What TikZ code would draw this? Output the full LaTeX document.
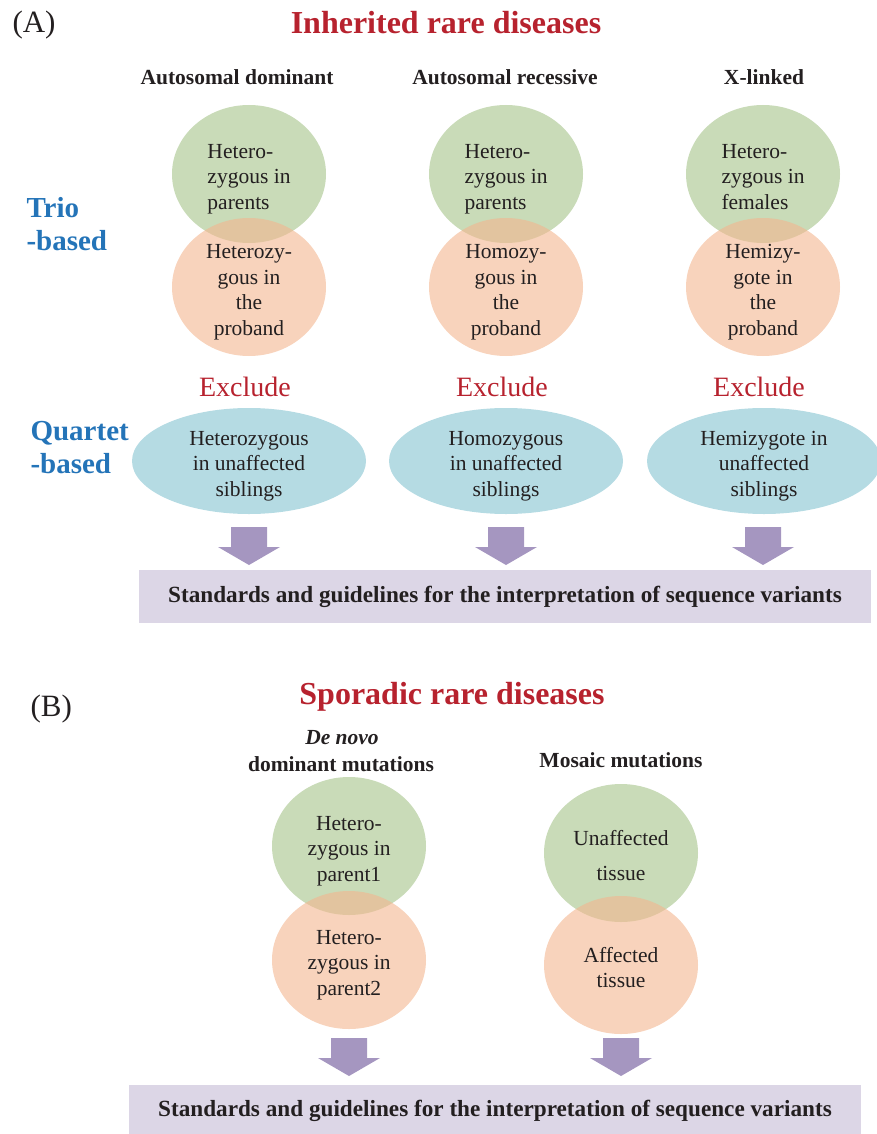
\documentclass[tikz,border=0pt]{standalone}
\usepackage{fontspec}
\setmainfont{Liberation Serif}
\usetikzlibrary{shapes.geometric}

\definecolor{bubgreen}{RGB}{201,219,184}
\definecolor{bubpeach}{RGB}{243,182,143}
\definecolor{bubblue}{RGB}{181,219,227}
\definecolor{arrowlav}{RGB}{165,150,192}
\definecolor{boxlav}{RGB}{220,214,230}
\definecolor{headred}{RGB}{183,34,46}
\definecolor{sideblue}{RGB}{36,116,184}
\definecolor{inkgray}{RGB}{35,31,32}

% block arrow pointing down: x of centre, y of top
\newcommand{\downblock}[2]{
	\fill[arrowlav] (#1-18,#2) -- (#1+18,#2) -- (#1+18,#2+20) -- (#1+31,#2+20)
		-- (#1,#2+38) -- (#1-31,#2+20) -- (#1-18,#2+20) -- cycle;}
% lines of a bubble, set a little low, box of no height
\newcommand{\bublines}[2]{\raisebox{-10pt}[0pt][0pt]{\begin{tabular}{@{}#1@{}}#2\end{tabular}}}

\begin{document}
\begin{tikzpicture}[x=1pt,y=-1pt,
	every node/.style={text=inkgray},
	bigtitle/.style={font=\fontsize{32}{38}\selectfont\bfseries, text=headred},
	panel/.style={font=\fontsize{31}{36}\selectfont, anchor=west},
	colhead/.style={font=\fontsize{21.5}{26}\selectfont\bfseries},
	sidelabel/.style={font=\fontsize{29}{33}\selectfont\bfseries, text=sideblue, align=left, anchor=west},
	exclude/.style={font=\fontsize{28}{32}\selectfont, text=headred},
	bubtext/.style={font=\fontsize{21.5}{25.5}\selectfont, inner sep=0pt},
	parentbub/.style={bubtext, ellipse, fill=bubgreen, minimum width=154pt, minimum height=138pt},
	childbub/.style={bubtext, ellipse, fill=bubpeach, fill opacity=0.6, text opacity=1, minimum width=154pt, minimum height=138pt},
	siblingbub/.style={bubtext, ellipse, fill=bubblue, minimum width=234pt, minimum height=106pt},
	guidebox/.style={fill=boxlav, minimum width=732pt, minimum height=53pt, inner sep=0pt,
		font=\fontsize{23.2}{27}\selectfont\bfseries}]

\useasboundingbox (0,0) rectangle (877,1134);

% (A) inherited
\node[panel] (pA) at (9,25) {(A)};
\node[bigtitle] (inherited) at (446,23) {Inherited rare diseases};

\node[colhead] (ad) at (237,77) {Autosomal dominant};
\node[colhead] (ar) at (505,77) {Autosomal recessive};
\node[colhead] (xl) at (764,77) {X-linked};

\node[sidelabel] (trio) at (23,224) {Trio\\-based};
\node[sidelabel] (quartet) at (27,448) {Quartet\\-based};

\node[parentbub] (adpar) at (249,174) {\bublines{l}{Hetero-\\zygous in\\parents}};
\node[parentbub] (arpar) at (506,174) {\bublines{l}{Hetero-\\zygous in\\parents}};
\node[parentbub] (xlpar) at (763,174) {\bublines{l}{Hetero-\\zygous in\\females}};

\node[childbub] (adpro) at (249,287) {\bublines{c}{Heterozy-\\gous in\\the\\proband}};
\node[childbub] (arpro) at (506,287) {\bublines{c}{Homozy-\\gous in\\the\\proband}};
\node[childbub] (xlpro) at (763,287) {\bublines{c}{Hemizy-\\gote in\\the\\proband}};

\node[exclude] (exad) at (245,387) {Exclude};
\node[exclude] (exar) at (502,387) {Exclude};
\node[exclude] (exxl) at (759,387) {Exclude};

\node[siblingbub] (adsib) at (249,461) {\bublines{c}{Heterozygous\\in unaffected\\siblings}};
\node[siblingbub] (arsib) at (506,461) {\bublines{c}{Homozygous\\in unaffected\\siblings}};
\node[siblingbub] (xlsib) at (764,461) {\bublines{c}{Hemizygote in\\unaffected\\siblings}};

\downblock{249}{527}
\downblock{506}{527}
\downblock{763}{527}

\node[guidebox] (guideA) at (505,596.5) {Standards and guidelines for the interpretation of sequence variants};

% (B) sporadic
\node[panel] (pB) at (27,709) {(B)};
\node[bigtitle] (sporadic) at (452,697) {Sporadic rare diseases};

\node[colhead] (denovo) at (342,738) {\itshape De novo};
\node[colhead] (dominant) at (341,764) {dominant mutations};
\node[colhead] (mosaic) at (621,760) {Mosaic mutations};

\node[parentbub] (dnpar1) at (349,846) {\bublines{c}{Hetero-\\zygous in\\parent1}};
\node[parentbub] (mounaff) at (621,853) {\bublines{c}{Unaffected\\[10pt]tissue}};

\node[childbub] (dnpar2) at (349,960) {\bublines{c}{Hetero-\\zygous in\\parent2}};
\node[childbub] (moaff) at (621,965) {\bublines{c}{Affected\\tissue}};

\downblock{349}{1038}
\downblock{621}{1038}

\node[guidebox] (guideB) at (495,1111) {Standards and guidelines for the interpretation of sequence variants};

\end{tikzpicture}
\end{document}
